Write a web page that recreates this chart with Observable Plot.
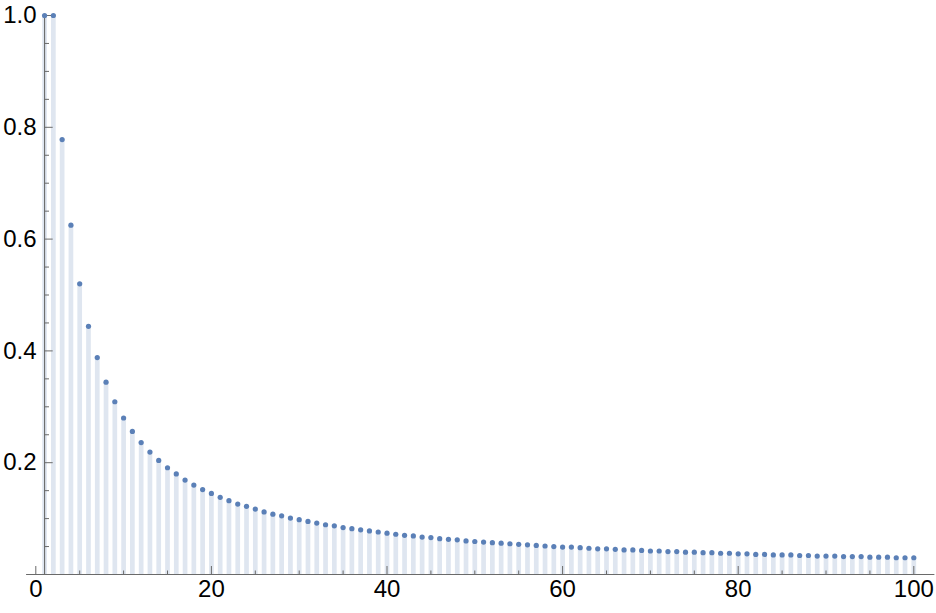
<!DOCTYPE html>
<html>
<head>
<meta charset="utf-8">
<script src="https://cdn.jsdelivr.net/npm/d3@7"></script>
<script src="https://cdn.jsdelivr.net/npm/@observablehq/plot@0.6"></script>
<style>
  html, body { margin: 0; padding: 0; background: #fff; }
  #chart svg { display: block; }
</style>
</head>
<body>
<div id="chart"></div>
<script>
const ns = d3.range(1, 101);
const values = [
  1.000, 1.000, 0.778, 0.625, 0.520, 0.444, 0.388, 0.344, 0.309, 0.280,
  0.256, 0.236, 0.219, 0.204, 0.191, 0.180, 0.169, 0.160, 0.152, 0.145,
  0.138, 0.132, 0.126, 0.122, 0.117, 0.112, 0.108, 0.105, 0.101, 0.098,
  0.095, 0.092, 0.089, 0.087, 0.084, 0.082, 0.080, 0.078, 0.076, 0.074,
  0.072, 0.070, 0.069, 0.067, 0.066, 0.064, 0.063, 0.062, 0.060, 0.059,
  0.058, 0.057, 0.056, 0.055, 0.054, 0.053, 0.052, 0.051, 0.050, 0.049,
  0.049, 0.048, 0.047, 0.046, 0.046, 0.045, 0.044, 0.044, 0.043, 0.042,
  0.042, 0.041, 0.041, 0.040, 0.040, 0.039, 0.039, 0.038, 0.038, 0.037,
  0.037, 0.036, 0.036, 0.035, 0.035, 0.035, 0.034, 0.034, 0.033, 0.033,
  0.033, 0.032, 0.032, 0.032, 0.031, 0.031, 0.031, 0.030, 0.030, 0.030
];
const xMajorTicks = [0, 20, 40, 60, 80, 100];
const xMinorTicks = [5, 10, 15, 25, 30, 35, 45, 50, 55, 65, 70, 75, 85, 90, 95];
const yMajorTicks = [0.2, 0.4, 0.6, 0.8, 1.0];
const yMinorTicks = [0.05, 0.1, 0.15, 0.25, 0.3, 0.35, 0.45, 0.5, 0.55, 0.65, 0.7, 0.75, 0.85, 0.9, 0.95];

const data = ns.map((n, i) => ({n, v: values[i]}));

const W = 936, H = 613;
const mL = 35.3, mR = 22.7, mT = 15, mB = 39;
const plotW = W - mL - mR, plotH = H - mT - mB;
const axisX0 = 1;                // y-axis crosses at n = 1
const axisOffset = 8.7;          // pixel offset of the y-axis from the frame's left
const axisColor = "#6a6a6a";

const chart = Plot.plot({
  width: W,
  height: H,
  marginLeft: mL,
  marginRight: mR,
  marginTop: mT,
  marginBottom: mB,
  style: {fontFamily: "'Liberation Sans', Arial, sans-serif", background: "#fff", overflow: "visible"},
  x: {domain: [0, 100], axis: null},
  y: {domain: [0, 1], axis: null},
  marks: [
    Plot.ruleX(data, {x: "n", y: "v", stroke: "rgb(223,230,240)", strokeWidth: 4.7}),
    Plot.ruleY([0], {x1: -1.05, x2: 102.4, stroke: axisColor, strokeWidth: 1.1}),
    Plot.ruleX([axisX0], {stroke: axisColor, strokeWidth: 1.1}),
    Plot.tickX(xMajorTicks, {x: d => d, insetTop: plotH - 8, stroke: axisColor, strokeWidth: 1}),
    Plot.tickX(xMinorTicks, {x: d => d, insetTop: plotH - 3.5, stroke: axisColor, strokeWidth: 1}),
    Plot.tickY(yMajorTicks, {y: d => d, insetLeft: axisOffset, insetRight: plotW - axisOffset - 8.7, stroke: axisColor, strokeWidth: 1}),
    Plot.tickY(yMinorTicks, {y: d => d, insetLeft: axisOffset, insetRight: plotW - axisOffset - 5, stroke: axisColor, strokeWidth: 1}),
    Plot.dot(data, {x: "n", y: "v", r: 2.6, fill: "#5b80b7", stroke: null}),
    Plot.text(xMajorTicks, {x: d => d, frameAnchor: "bottom", dy: 22.5, text: d => String(d), fontSize: 24, fill: "#000"}),
    Plot.text(yMajorTicks, {x: axisX0, y: d => d, dx: -8, textAnchor: "end", text: d => d3.format(".1f")(d), fontSize: 24, fill: "#000"})
  ]
});
document.getElementById("chart").appendChild(chart);
</script>
</body>
</html>
